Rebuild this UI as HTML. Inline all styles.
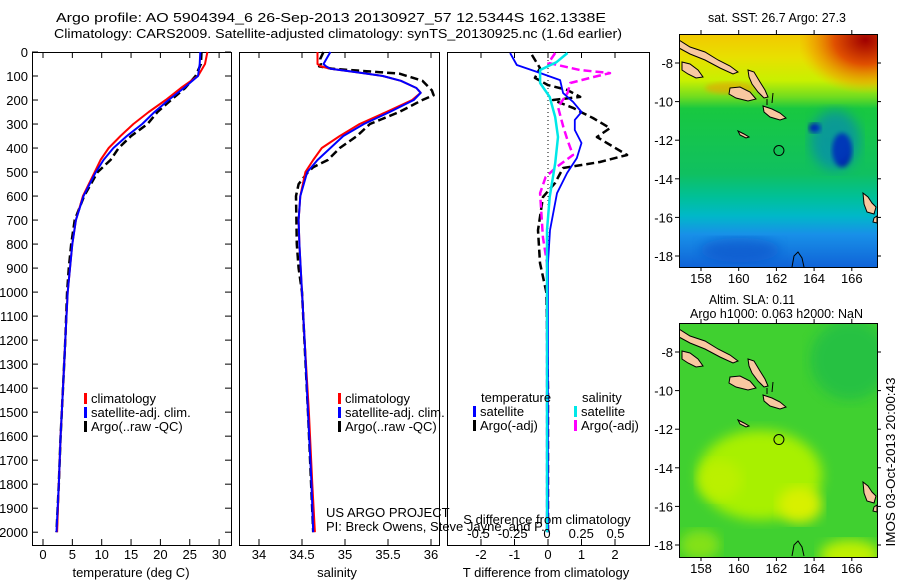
<!DOCTYPE html>
<html><head><meta charset="utf-8">
<style>
html,body{margin:0;padding:0;background:#fff;}
svg{display:block;font-family:"Liberation Sans",sans-serif;}
text{font-size:13px;fill:#000;}
</style></head>
<body>
<svg id="fig" width="900" height="580" viewBox="0 0 900 580" xmlns="http://www.w3.org/2000/svg">
<defs>
<linearGradient id="sstBase" x1="0" y1="0" x2="0" y2="1">
<stop offset="0" stop-color="#f2c800"/><stop offset="0.1" stop-color="#e8e000"/>
<stop offset="0.2" stop-color="#c8f000"/><stop offset="0.27" stop-color="#70dc20"/>
<stop offset="0.32" stop-color="#18c840"/><stop offset="0.6" stop-color="#10c060"/>
<stop offset="0.7" stop-color="#00c098"/><stop offset="0.78" stop-color="#00b8c8"/>
<stop offset="0.86" stop-color="#1890e8"/><stop offset="1" stop-color="#1064d8"/>
</linearGradient>
<radialGradient id="hot" cx="0.85" cy="0.1" r="0.9">
<stop offset="0" stop-color="#a00000"/><stop offset="0.45" stop-color="#e05000"/>
<stop offset="0.8" stop-color="#f0a000" stop-opacity="0.6"/><stop offset="1" stop-color="#f0c000" stop-opacity="0"/>
</radialGradient>
<filter id="blur6"><feGaussianBlur stdDeviation="6"/></filter>
<filter id="blur3"><feGaussianBlur stdDeviation="2.5"/></filter>
<clipPath id="clipM1"><rect x="679" y="34" width="198" height="233"/></clipPath>
<clipPath id="clipM2"><rect x="679" y="323" width="198" height="234"/></clipPath>
<g id="islands" stroke="#000" stroke-width="1" fill="#f8c8a0">
<polygon points="679,40 690,47 705,52 718,60 730,66 738,72 733,74 720,68 705,60 690,54 679,48"/>
<polygon points="748,70 754,72 760,82 765,90 768,97 764,98 758,92 752,84 749,77"/>
<polygon points="730,88 740,87 750,92 756,99 748,101 736,98 729,94"/>
<polygon points="763,106 772,109 780,113 786,118 780,120 770,117 764,112"/>
<polygon points="738,131 744,134 749,137 746,138 740,135"/>
<polygon points="682,62 690,64 698,70 703,77 696,78 688,74 682,70"/>
<polygon points="863,193 868,197 872,203 876,207 874,214 867,212 864,204"/>
<polygon points="874,218 877,216 877,223 873,222"/>
<polyline points="792,267 794,256 798,252 802,258 804,267" fill="none"/>
<line x1="773" y1="93" x2="772" y2="103"/>
<line x1="767" y1="99" x2="767" y2="105"/>
</g>
</defs>
<g id="root"></g>
</svg>
<script>
// ---------- data ----------
const depthTicks = [0,100,200,300,400,500,600,700,800,900,1000,1100,1200,1300,1400,1500,1600,1700,1800,1900,2000];
const tempTicks = [0,5,10,15,20,25,30];
const salTicks = [34,34.5,35,35.5,36];
const salTickLabels = ["34","34.5","35","35.5","36"];
const tdiffTicks = [-2,-1,0,1,2];
const sdiffTicks = [-0.5,-0.25,0,0.25,0.5];
const sdiffTickLabels = ["-0.5","-0.25","0","0.25","0.5"];

const tempDepth = [0,50,100,150,200,250,300,350,400,450,500,600,700,800,900,1000,1200,1400,1600,1800,2000];
const tempClim  = [28.0,27.6,26.4,23.5,20.9,18.0,15.4,13.2,11.2,9.8,8.8,6.8,5.6,5.0,4.6,4.2,3.8,3.4,3.0,2.7,2.4];
const tempSat   = [26.8,26.7,26.4,24.0,21.4,19.0,16.9,14.3,12.0,10.3,9.0,6.9,5.6,5.0,4.6,4.2,3.8,3.4,3.0,2.7,2.3];
const tempArgo  = [27.0,26.9,26.0,24.2,21.8,19.5,17.8,15.0,12.9,11.5,9.3,7.0,5.4,4.8,4.4,4.1,3.8,3.4,3.0,2.7,2.3];

const salDepth = [0,50,60,70,80,90,100,120,150,170,200,250,300,350,400,450,500,600,700,800,1000,1200,1500,1800,2000];
const salClim  = [34.68,34.68,34.72,34.83,35.05,35.25,35.44,35.65,35.83,35.88,35.78,35.48,35.17,34.94,34.73,34.63,34.54,34.48,34.46,34.47,34.50,34.53,34.58,34.62,34.65];
const salSat   = [34.83,34.75,34.78,34.83,35.05,35.25,35.44,35.65,35.83,35.88,35.80,35.52,35.22,34.98,34.83,34.68,34.56,34.48,34.46,34.47,34.50,34.53,34.57,34.61,34.63];
const salArgoDepth = [0,30,50,60,70,80,90,120,160,180,200,250,300,350,400,450,480,500,550,600,800,900,1000,1500,2000];
const salArgo  = [34.75,34.71,34.72,34.70,34.86,35.25,35.63,35.90,36.01,36.03,35.90,35.63,35.29,35.14,34.94,34.80,34.63,34.57,34.46,34.43,34.44,34.46,34.50,34.57,34.63];

const tdSatDepth = [4,54,83,117,171,208,250,283,325,379,442,504,588,742,879,1200,2000];
const tdSat      = [-1.13,-0.93,-0.33,0.36,0.45,0.75,1.0,0.8,0.8,1.0,0.86,0.57,0.27,0.06,0,0,0];
const tdArgoDepth = [12,67,108,138,158,187,200,233,254,275,317,354,429,458,483,546,604,742,879,1000,1400,2000];
const tdArgo      = [-0.48,-0.24,-0.39,0,0.57,0.96,0.15,0.75,1.04,1.34,1.85,1.46,2.36,1.55,0.45,0.21,-0.15,-0.3,-0.24,-0.05,0,0];
const sdSatDepth = [4,42,75,129,187,271,354,463,604,742,1000,2000];
const sdSat      = [0.15,0.07,-0.05,-0.05,0.02,0.06,0.08,0.06,0.02,0,0,0];
const sdArgoDepth = [4,46,75,88,104,129,171,229,313,367,429,479,521,588,771,879,1500,2000];
const sdArgo      = [0.06,0.01,0.24,0.46,0.34,0.17,0.15,0.08,0.12,0.15,0.19,0.07,-0.01,-0.05,-0.03,0,0,0];

const lonTicks = [158,160,162,164,166];
const latTicks = [-8,-10,-12,-14,-16,-18];
const argoLon = 162.1338, argoLat = -12.5344;

// ---------- helpers ----------
const NS = "http://www.w3.org/2000/svg";
const root = document.getElementById('root');
function mk(tag, attrs, parent){ const e=document.createElementNS(NS,tag); for(const k in attrs) e.setAttribute(k,attrs[k]); (parent||root).appendChild(e); return e; }
function txt(x,y,s,anchor,parent,extra){ const e=mk('text',Object.assign({x:x,y:y,'text-anchor':anchor||'start'},extra||{}),parent); e.textContent=s; return e; }

const yTop=52, yBot=545;
const yD = d => 52 + d*0.2401;
const xT = t => 43 + t*5.87;
const xS = s => 259 + (s-34)*86;
const xTD = v => 548 + v*33.5;
const xSD = v => 547 + v*137;
const xLon = l => 701 + (l-158)*18.85;
const yLat = l => 63 + (-8-l)*19.3;

function line(xs, ds, xf, color, w, dash, name){
  let p = xs.map((v,i)=>xf(v).toFixed(1)+','+yD(ds[i]).toFixed(1)).join(' ');
  const e = mk('polyline',{points:p,fill:'none',stroke:color,'stroke-width':w,'stroke-linejoin':'round'});
  if(dash) e.setAttribute('stroke-dasharray',dash);
  
  
  return e;
}

// ---------- titles ----------
let t1 = txt(56,22,"Argo profile: AO 5904394_6 26-Sep-2013 20130927_57 12.5344S 162.1338E",'start',null,{textLength:550,lengthAdjust:'spacingAndGlyphs'});
 
let t2 = txt(54,38,"Climatology: CARS2009. Satellite-adjusted climatology: synTS_20130925.nc (1.6d earlier)",'start',null,{textLength:568,lengthAdjust:'spacingAndGlyphs'});
 

// ---------- panels ----------
const panels = [[32,231,'temperature-panel'],[239,439,'salinity-panel'],[447,649,'difference-panel']];
panels.forEach(p=>{
  const r = mk('rect',{x:p[0]+0.5,y:yTop+0.5,width:p[1]-p[0],height:yBot-yTop,fill:'#fff',stroke:'#000','stroke-width':1});
  
  
});

depthTicks.forEach(d=>{
  const y=yD(d);
  mk('line',{x1:32,x2:38,y1:y,y2:y,stroke:'#000'});
  mk('line',{x1:225,x2:231,y1:y,y2:y,stroke:'#000'});
  const l = txt(28,y+5,String(d),'end');
  
  
});
tempTicks.forEach(t=>{
  const x=xT(t);
  mk('line',{x1:x,x2:x,y1:yBot,y2:yBot-6,stroke:'#000'});
  mk('line',{x1:x,x2:x,y1:yTop,y2:yTop+6,stroke:'#000'});
  const l=txt(x,559,String(t),'middle');
  
  
});
salTicks.forEach((s,i)=>{
  const x=xS(s);
  mk('line',{x1:x,x2:x,y1:yBot,y2:yBot-6,stroke:'#000'});
  mk('line',{x1:x,x2:x,y1:yTop,y2:yTop+6,stroke:'#000'});
  const l=txt(x,559,salTickLabels[i],'middle');
  
  
});
tdiffTicks.forEach(v=>{
  const x=xTD(v);
  mk('line',{x1:x,x2:x,y1:yBot,y2:yBot-6,stroke:'#000'});
  mk('line',{x1:x,x2:x,y1:yTop,y2:yTop+6,stroke:'#000'});
  const l=txt(x,559,String(v),'middle');
  
  
});
let xl1=txt(131,577,"temperature (deg C)",'middle');  
let xl2=txt(337,577,"salinity",'middle');  
let xl3=txt(546,577,"T difference from climatology",'middle');  

mk('line',{x1:548,x2:548,y1:yTop,y2:282,stroke:'#000','stroke-dasharray':'1,3'});

line(tempArgo,tempDepth,xT,'#000',2.5,'8,4','temp-argo-line');
line(tempClim,tempDepth,xT,'#ff0000',2,null,'temp-climatology-line');
line(tempSat,tempDepth,xT,'#0000ff',2,null,'temp-satellite-line');
line(salArgo,salArgoDepth,xS,'#000',2.5,'8,4','sal-argo-line');
line(salClim,salDepth,xS,'#ff0000',2,null,'sal-climatology-line');
line(salSat,salDepth,xS,'#0000ff',2,null,'sal-satellite-line');
line(tdArgo,tdArgoDepth,xTD,'#000',2.5,'8,4','tdiff-argo-line');
line(sdArgo,sdArgoDepth,xSD,'#ff00ff',2.5,'8,4','sdiff-argo-line');
line(tdSat,tdSatDepth,xTD,'#0000ff',1.8,null,'tdiff-satellite-line');
line(sdSat,sdSatDepth,xSD,'#00e8e8',2.5,null,'sdiff-satellite-line');

function legend(x,y,color,label,name){
  const g=mk('g',{});
  
  
  mk('rect',{x:x,y:y-10,width:3,height:11,fill:color},g);
  txt(x+7,y,label,'start',g);
}
[[84,'climatology','#ff0000'],[84,'satellite-adj. clim.','#0000ff'],[84,'Argo(..raw -QC)','#000']].forEach((l,i)=>legend(l[0],403+i*14,l[2],l[1],'temp-legend-entry'));
[[338,'climatology','#ff0000'],[338,'satellite-adj. clim.','#0000ff'],[338,'Argo(..raw -QC)','#000']].forEach((l,i)=>legend(l[0],403+i*14,l[2],l[1],'sal-legend-entry'));
let lt=txt(481,402,"temperature");  
let ls=txt(582,402,"salinity");  
legend(473,416,'#0000ff','satellite','diff-legend-temp-satellite');
legend(473,430,'#000','Argo(-adj)','diff-legend-temp-argo');
legend(574,416,'#00e8e8','satellite','diff-legend-sal-satellite');
legend(574,430,'#ff00ff','Argo(-adj)','diff-legend-sal-argo');

let c1=txt(326,517,"US ARGO PROJECT");  
let c2=txt(326,531,"PI: Breck Owens, Steve Jayne, and P.");  
let sdt=txt(547,524,"S difference from climatology",'middle');  
sdiffTicks.forEach((v,i)=>{
  const l=txt(xSD(v),538,sdiffTickLabels[i],'middle');
  
  
});

// ---------- maps ----------
function mapFrame(y0,y1,off,name){
  const f=mk('rect',{x:679.5,y:y0+0.5,width:198,height:y1-y0,fill:'none',stroke:'#000','stroke-width':1});
  
  
  lonTicks.forEach(l=>{
    const x=xLon(l);
    mk('line',{x1:x,x2:x,y1:y0,y2:y0-4,stroke:'#000'});
    mk('line',{x1:x,x2:x,y1:y1,y2:y1+4,stroke:'#000'});
    const t=txt(x,y1+16,String(l),'middle');
    
    
  });
  latTicks.forEach(l=>{
    const y=yLat(l)+off;
    mk('line',{x1:679,x2:675,y1:y,y2:y,stroke:'#000'});
    mk('line',{x1:877,x2:881,y1:y,y2:y,stroke:'#000'});
    const t=txt(673,y+5,String(l),'end');
    
    
  });
}
const m1=mk('g',{'clip-path':'url(#clipM1)'});


mk('rect',{x:679,y:34,width:198,height:233,fill:'url(#sstBase)'},m1);
mk('rect',{x:800,y:34,width:77,height:60,fill:'url(#hot)'},m1);
mk('ellipse',{cx:730,cy:88,rx:25,ry:6,fill:'#f0a000',opacity:0.6,filter:'url(#blur3)'},m1);
mk('ellipse',{cx:842,cy:150,rx:10,ry:17,fill:'#000090',filter:'url(#blur3)'},m1);
mk('ellipse',{cx:815,cy:128,rx:6,ry:5,fill:'#0010a0',filter:'url(#blur3)'},m1);
mk('ellipse',{cx:835,cy:140,rx:25,ry:30,fill:'#0070e0',opacity:0.5,filter:'url(#blur6)'},m1);
mk('ellipse',{cx:740,cy:250,rx:40,ry:12,fill:'#1050c8',opacity:0.6,filter:'url(#blur6)'},m1);
mk('use',{href:'#islands'},m1);
mk('circle',{cx:xLon(argoLon),cy:yLat(argoLat),r:5,fill:'none',stroke:'#000'},m1);
mapFrame(34,267,0,'sst-map-frame');
let mt1=txt(708,22,"sat. SST: 26.7 Argo: 27.3",'start',null,{textLength:138,lengthAdjust:'spacingAndGlyphs'});  

const m2=mk('g',{'clip-path':'url(#clipM2)'});


mk('rect',{x:679,y:323,width:198,height:234,fill:'#40d030'},m2);
mk('ellipse',{cx:850,cy:360,rx:40,ry:40,fill:'#18b850',opacity:0.6,filter:'url(#blur6)'},m2);
mk('ellipse',{cx:760,cy:475,rx:62,ry:45,fill:'#a8f000',filter:'url(#blur6)'},m2);
mk('ellipse',{cx:800,cy:505,rx:22,ry:18,fill:'#d8f000',filter:'url(#blur6)'},m2);
mk('ellipse',{cx:720,cy:480,rx:22,ry:20,fill:'#c0f000',opacity:0.8,filter:'url(#blur6)'},m2);
mk('ellipse',{cx:850,cy:555,rx:30,ry:15,fill:'#c0f000',filter:'url(#blur6)'},m2);
mk('ellipse',{cx:700,cy:545,rx:20,ry:15,fill:'#a0e810',opacity:0.7,filter:'url(#blur6)'},m2);
mk('use',{href:'#islands',transform:'translate(0,289)'},m2);
mk('circle',{cx:xLon(argoLon),cy:yLat(argoLat)+289,r:5,fill:'none',stroke:'#000'},m2);
mapFrame(323,557,289,'sla-map-frame');
let mt2=txt(709,304,"Altim. SLA: 0.11",'start',null,{textLength:86,lengthAdjust:'spacingAndGlyphs'});  
let mt3=txt(690,318,"Argo h1000: 0.063 h2000: NaN",'start',null,{textLength:173,lengthAdjust:'spacingAndGlyphs'});  
let ts=txt(0,0,"IMOS 03-Oct-2013 20:00:43",'middle',null,{transform:'translate(895,462) rotate(-90)',textLength:169,lengthAdjust:'spacingAndGlyphs'});


</script>
</body></html>
